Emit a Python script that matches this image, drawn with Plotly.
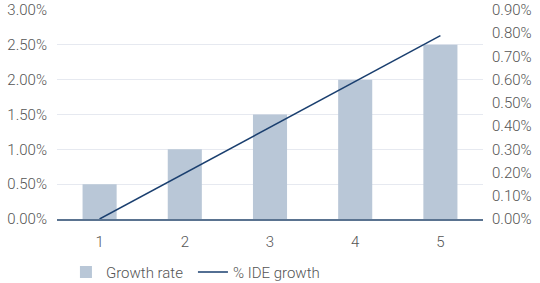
import plotly.graph_objects as go

categories = ["1", "2", "3", "4", "5"]
growth_rate = [0.005, 0.010, 0.015, 0.020, 0.025]
ide_growth = [0.0, 0.00197, 0.00395, 0.00592, 0.0079]

font_family = "Roboto"
text_color = "#555555"

fig = go.Figure()
fig.add_trace(go.Bar(
    x=categories, y=growth_rate, name="Growth rate",
    marker=dict(color="#b9c7d7", line=dict(width=0)),
    yaxis="y",
))
fig.add_trace(go.Scatter(
    x=categories, y=ide_growth, name="% IDE growth",
    mode="lines", line=dict(color="#1a3f6f", width=1.5),
    yaxis="y2",
))

fig.update_layout(
    width=540, height=283,
    margin=dict(l=57, r=57, t=10, b=64, autoexpand=False),
    paper_bgcolor="white", plot_bgcolor="white",
    font=dict(family=font_family, size=15, color=text_color, weight=300),
    bargap=0.6,
    showlegend=True,
    legend=dict(orientation="h", x=0.021, xanchor="left", y=-0.255, yanchor="middle",
                font=dict(size=15, color=text_color), entrywidth=82,
                itemwidth=30, traceorder="normal"),
    xaxis=dict(showgrid=False, showline=True, linecolor="#5a7390", linewidth=1.5,
               ticks="", tickfont=dict(size=15), zeroline=False, automargin=False,
               ticklabelstandoff=8),
    yaxis=dict(range=[0, 0.03], dtick=0.005, tickformat=".2%", showgrid=True,
               gridcolor="#e6e9f0", gridwidth=1, zeroline=False, showline=False,
               ticks="", automargin=False, ticklabelstandoff=9),
    yaxis2=dict(range=[0, 0.009], dtick=0.001, tickformat=".2%", overlaying="y",
                side="right", showgrid=False, zeroline=False, showline=False,
                automargin=False, ticklabelstandoff=8),
)

fig.write_html("out.html", config={"displayModeBar": False},
               post_script="document.body.style.margin='0';document.body.style.padding='0';")
